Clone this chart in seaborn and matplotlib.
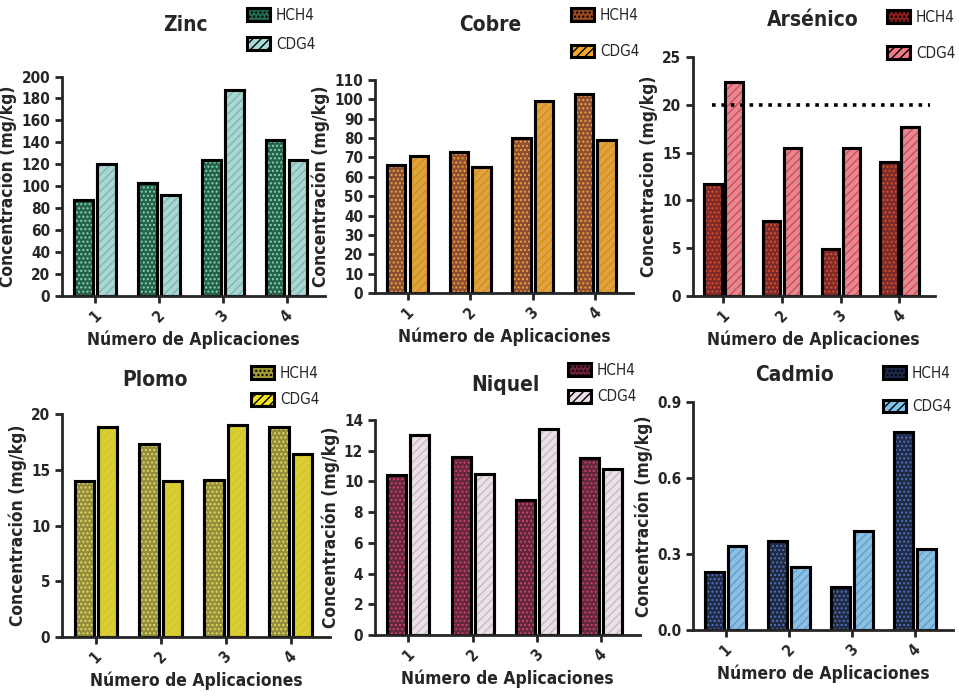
import seaborn as sns
import pandas as pd
import matplotlib.pyplot as plt
from matplotlib.patches import Rectangle

sns.set_style("ticks")
plt.rcParams['font.family'] = ['DejaVu Sans']
plt.rcParams['font.stretch'] = 'condensed'

# datos
aplicaciones = ["1", "2", "3", "4"]
series = ["HCH4", "CDG4"]

zinc_hch4 = [87, 103, 124, 142]
zinc_cdg4 = [120, 92, 188, 124]
cobre_hch4 = [66, 73, 80, 103]
cobre_cdg4 = [71, 65, 99, 79]
arsenico_hch4 = [11.7, 7.8, 4.9, 14.0]
arsenico_cdg4 = [22.4, 15.5, 15.5, 17.7]
plomo_hch4 = [14.0, 17.3, 14.1, 18.9]
plomo_cdg4 = [18.9, 14.0, 19.0, 16.4]
niquel_hch4 = [10.4, 11.6, 8.8, 11.5]
niquel_cdg4 = [13.0, 10.5, 13.4, 10.8]
cadmio_hch4 = [0.23, 0.35, 0.17, 0.78]
cadmio_cdg4 = [0.33, 0.25, 0.39, 0.32]
limite_arsenico = 20

fig = plt.figure(figsize=(9.59, 6.96), dpi=100)

# (titulo, hch4, cdg4, colores, colores de trama, posicion ejes, yticks, titulo xy, legend xy, labelspacing, ylabel)
paneles = [
    ("Zinc", zinc_hch4, zinc_cdg4, ["#1d6a4e", "#a6dcd8"], ["#7fd8a8", "#6fbcb8"],
     [0.0647, 0.575, 0.274, 0.315], list(range(0, 201, 20)), (185, 25), (247, 8), 0.9,
     "Concentración (mg/kg)"),
    ("Cobre", cobre_hch4, cobre_cdg4, ["#9a4a22", "#f5a92a"], ["#f0a040", "#e08a10"],
     [0.391, 0.579, 0.269, 0.306], list(range(0, 111, 10)), (490, 25), (571, 8), 1.4,
     "Concentración (mg/kg)"),
    ("Arsénico", arsenico_hch4, arsenico_cdg4, ["#8a1c1c", "#f27a86"], ["#d8502a", "#d84858"],
     [0.7226, 0.575, 0.252, 0.343], list(range(0, 26, 5)), (813, 20), (887, 10), 1.35,
     "Concentracion (mg/kg)"),
    ("Plomo", plomo_hch4, plomo_cdg4, ["#a39a2c", "#f2e322"], ["#e0d860", "#d8c810"],
     [0.0647, 0.0848, 0.279, 0.320], list(range(0, 21, 5)), (155, 380), (251, 366), 0.75,
     "Concentración (mg/kg)"),
    ("Niquel", niquel_hch4, niquel_cdg4, ["#6a1f36", "#ecdfe8"], ["#d04070", "#c8b8c4"],
     [0.391, 0.0876, 0.276, 0.309], list(range(0, 15, 2)), (505, 385), (568, 363), 0.75,
     "Concentración (mg/kg)"),
    ("Cadmio", cadmio_hch4, cadmio_cdg4, ["#1c2848", "#80c2ee"], ["#5070c0", "#5aa0d8"],
     [0.7226, 0.0948, 0.271, 0.328], [0.0, 0.3, 0.6, 0.9], (795, 375), (883, 366), 1.2,
     "Concentración (mg/kg)"),
]

W, H = 959, 696

for (titulo, hch4, cdg4, colores, tramas, pos, yticks, txy, lxy, lsp, ylab) in paneles:
    ax = fig.add_axes(pos)
    df = pd.DataFrame({
        "Aplicacion": aplicaciones * 2,
        "Concentracion": hch4 + cdg4,
        "Serie": [series[0]] * 4 + [series[1]] * 4,
    })
    sns.barplot(data=df, x="Aplicacion", y="Concentracion", hue="Serie",
                palette=colores, width=0.72, gap=0.18, edgecolor="black",
                linewidth=2.2, legend=False, ax=ax, errorbar=None)
    handles = []
    for i, cont in enumerate(ax.containers):
        patron = "...." if i == 0 else "////"
        for bar in cont:
            over = Rectangle(bar.get_xy(), bar.get_width(), bar.get_height(),
                             fill=False, hatch=patron, edgecolor=tramas[i], linewidth=0)
            ax.add_patch(over)
            bar.set_zorder(over.get_zorder() - 0.1)
            border = Rectangle(bar.get_xy(), bar.get_width(), bar.get_height(),
                               fill=False, edgecolor="black", linewidth=2.2)
            ax.add_patch(border)
        handles.append(Rectangle((0, 0), 1, 1, facecolor=colores[i], edgecolor="black",
                                 linewidth=2.2, hatch=patron))

    if titulo == "Arsénico":
        ax.axhline(limite_arsenico, color="black", linestyle=(0, (1, 1.6)), linewidth=2.6,
                   xmin=0.08, xmax=0.98)

    ax.set_xlim(-0.52, 3.6)
    ax.set_ylim(yticks[0], yticks[-1])
    ax.set_yticks(yticks)
    if titulo == "Cadmio":
        ax.set_yticklabels([f"{v:.1f}" for v in yticks])
    sns.despine(ax=ax)
    for s in ["left", "bottom"]:
        ax.spines[s].set_linewidth(2.0)
    ax.tick_params(axis="both", width=2.0, length=5, labelsize=11)
    for lab in ax.get_xticklabels() + ax.get_yticklabels():
        lab.set_fontweight("bold")
    ax.set_xticks(range(4))
    ax.set_xticklabels(aplicaciones, rotation=45, fontweight="bold")
    ax.set_xlabel("Número de Aplicaciones", fontsize=12.5, fontweight="bold", labelpad=4)
    ax.set_ylabel(ylab, fontsize=12.5, fontweight="bold", labelpad=3)

    fig.text(txy[0] / W, 1 - txy[1] / H, titulo, fontsize=15, fontweight="bold",
             ha="center", va="center")
    fig.legend(handles, series, loc="upper left", bbox_to_anchor=(lxy[0] / W, 1 - lxy[1] / H),
               frameon=False, fontsize=11, handlelength=1.5, handleheight=0.9,
               labelspacing=lsp, handletextpad=0.4, borderaxespad=0, borderpad=0)

fig.savefig("out.png", dpi=100)
